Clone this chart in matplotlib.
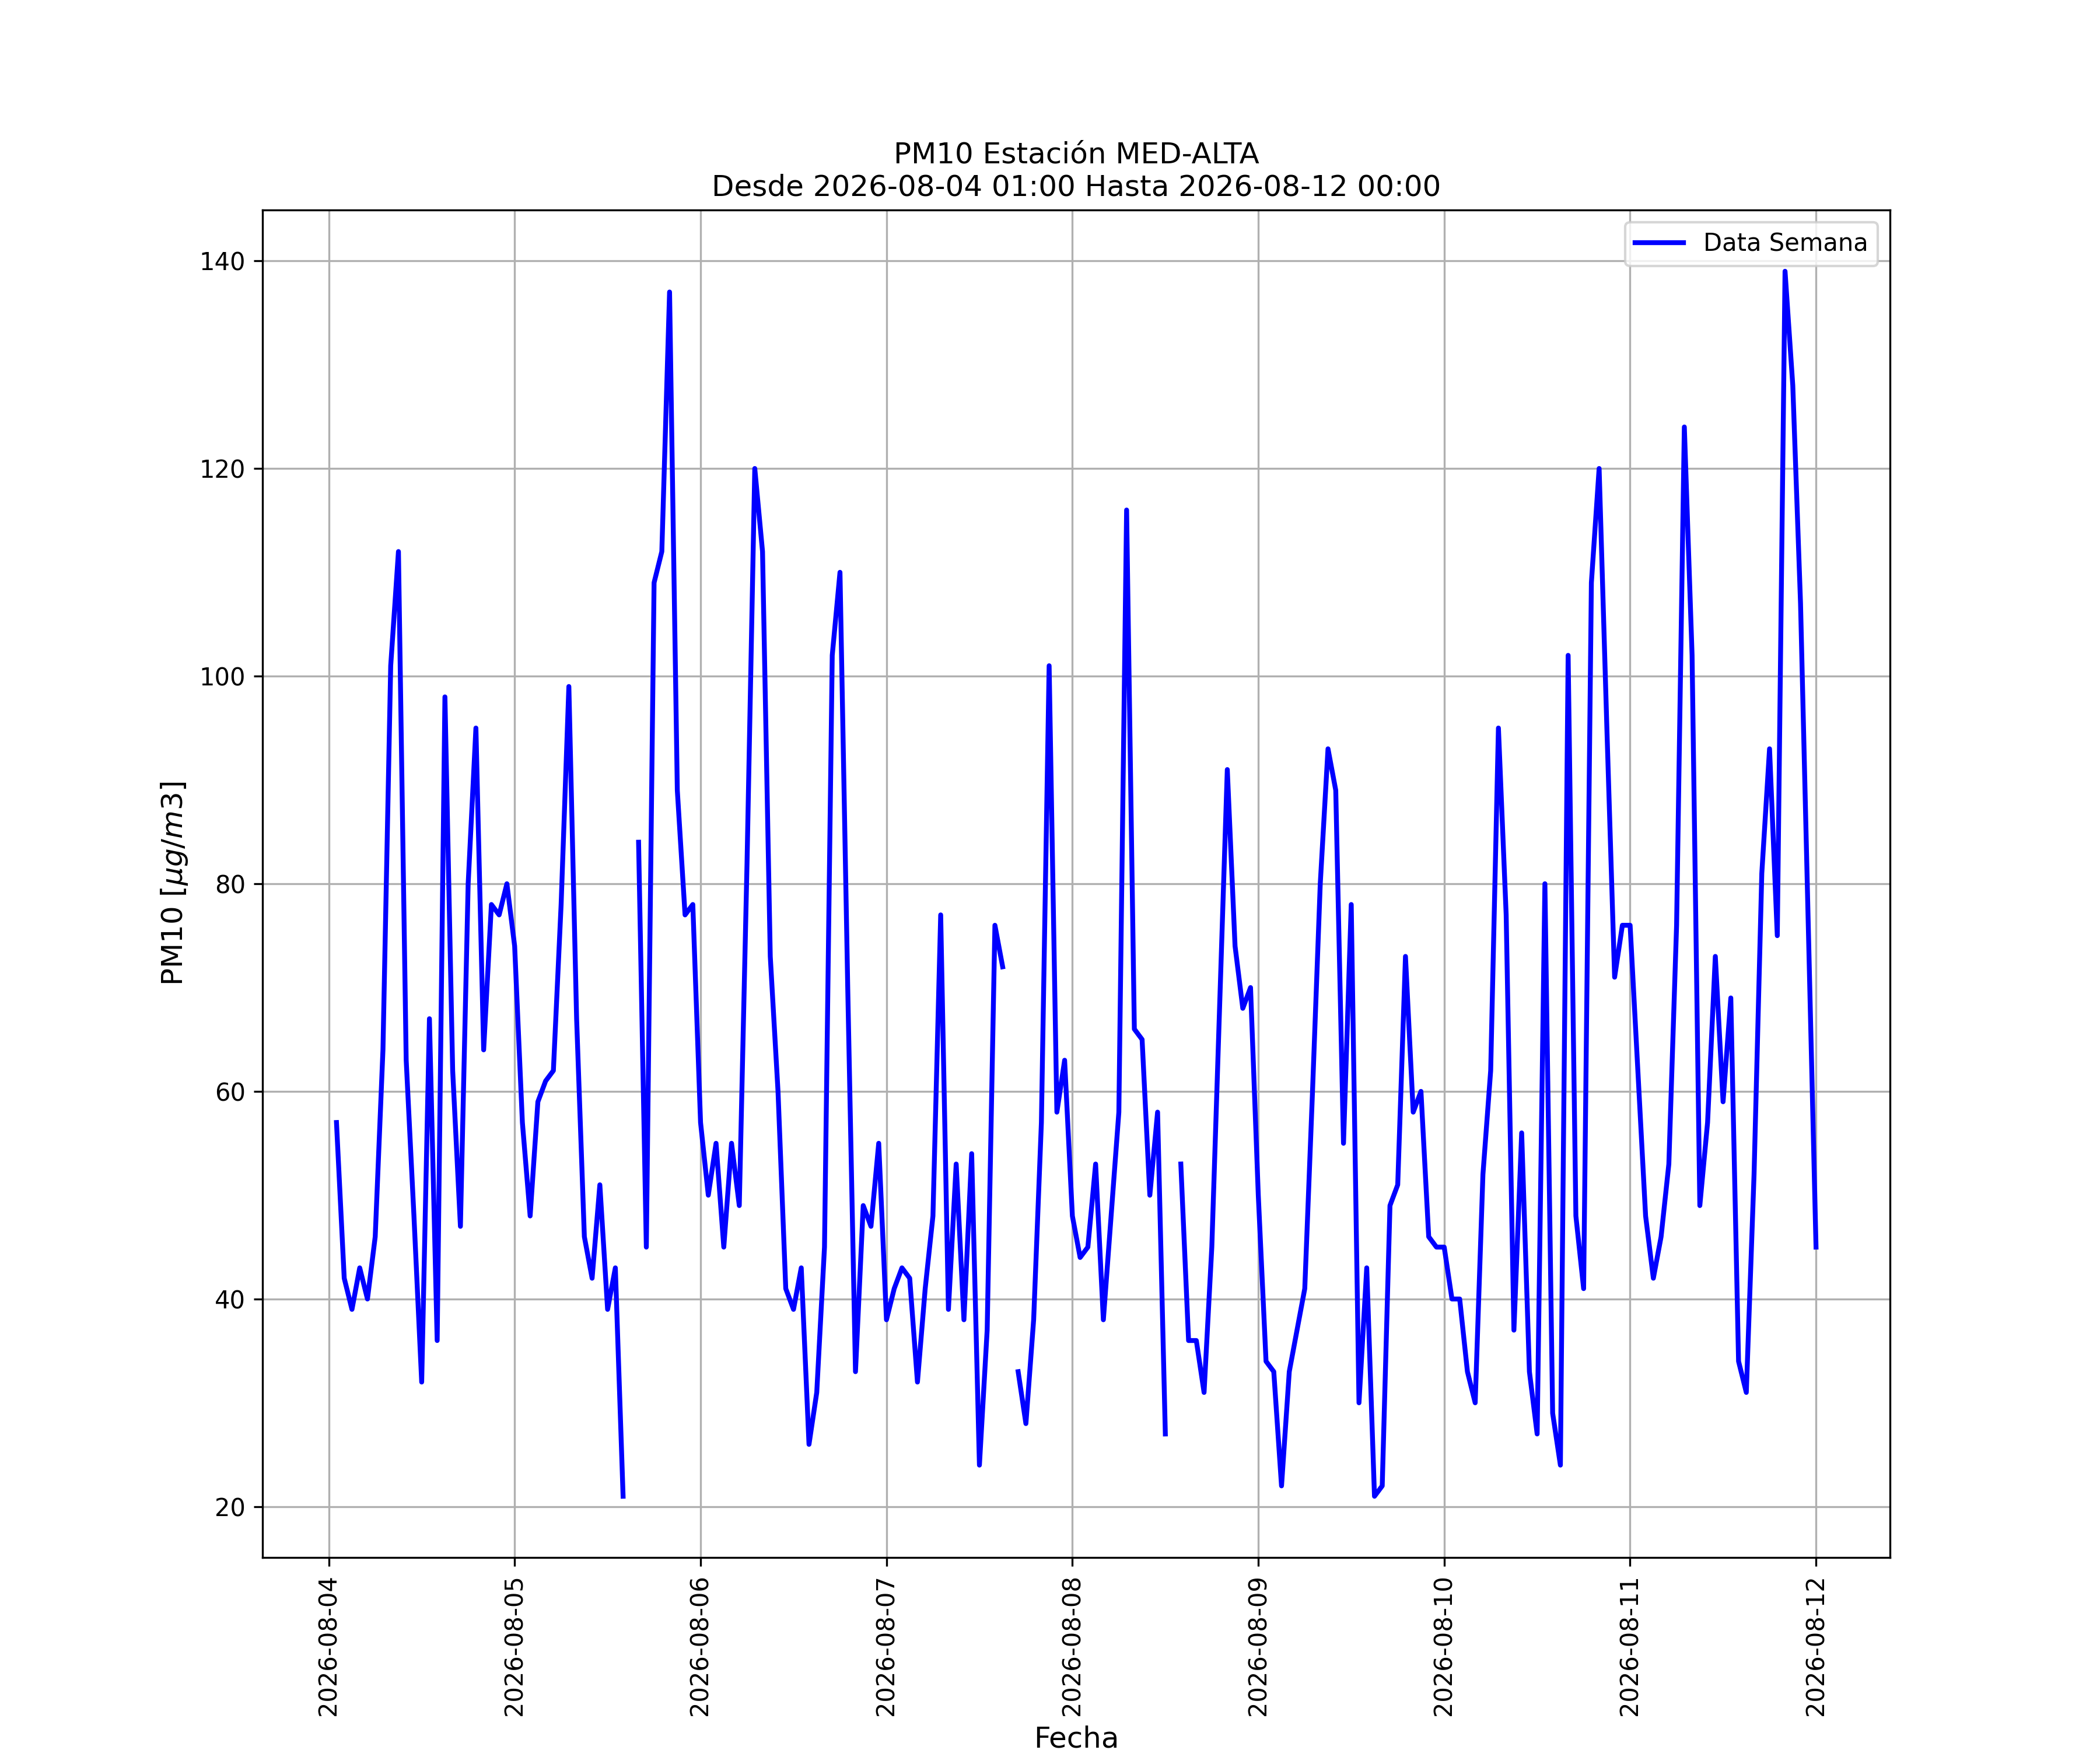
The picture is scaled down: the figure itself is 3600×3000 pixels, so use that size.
#!/usr/bin/env python3
"""PM10 hourly series for station MED-ALTA, one week."""

import matplotlib

matplotlib.use("Agg")
import matplotlib.dates as mdates
import matplotlib.pyplot as plt
import numpy as np
import pandas as pd

NAN = np.nan

# hourly PM10 values, each list starts at 01:00 and ends at 00:00 of next day
dia_04 = [57, 42, 39, 43, 40, 46, 64, 101, 112, 63, 48, 32,
          67, 36, 98, 62, 47, 80, 95, 64, 78, 77, 80, 74]
dia_05 = [57, 48, 59, 61, 62, 78, 99, 67, 46, 42, 51, 39,
          43, 21, NAN, 84, 45, 109, 112, 137, 89, 77, 78, 57]
dia_06 = [50, 55, 45, 55, 49, 82, 120, 112, 73, 60, 41, 39,
          43, 26, 31, 45, 102, 110, 70, 33, 49, 47, 55, 38]
dia_07 = [41, 43, 42, 32, 41, 48, 77, 39, 53, 38, 54, 24,
          37, 76, 72, NAN, 33, 28, 38, 57, 101, 58, 63, 48]
dia_08 = [44, 45, 53, 38, 48, 58, 116, 66, 65, 50, 58, 27,
          NAN, 53, 36, 36, 31, 45, 68, 91, 74, 68, 70, 50]
dia_09 = [34, 33, 22, 33, 37, 41, 60, 80, 93, 89, 55, 78,
          30, 43, 21, 22, 49, 51, 73, 58, 60, 46, 45, 45]
dia_10 = [40, 40, 33, 30, 52, 62, 95, 77, 37, 56, 33, 27,
          80, 29, 24, 102, 48, 41, 109, 120, 95, 71, 76, 76]
dia_11 = [62, 48, 42, 46, 53, 76, 124, 102, 49, 57, 73, 59,
          69, 34, 31, 52, 81, 93, 75, 139, 128, 107, 76, 45]

estacion = "MED-ALTA"
inicio = "2026-08-04 01:00"
fin = "2026-08-12 00:00"


def main() -> None:
    valores = np.array(dia_04 + dia_05 + dia_06 + dia_07
                       + dia_08 + dia_09 + dia_10 + dia_11, dtype=float)
    fechas = pd.date_range(inicio, fin, freq="h")

    fig, ax = plt.subplots(figsize=(12, 10))
    ax.plot(fechas, valores, color="blue", linewidth=2, label="Data Semana")
    ax.set_title(f"PM10 Estación {estacion}\nDesde {inicio} Hasta {fin}",
                 fontsize=12)
    ax.set_xlabel("Fecha", fontsize=12)
    ax.set_ylabel(r"PM10 [$\mu g/m3$]", fontsize=12)
    ax.xaxis.set_major_locator(mdates.DayLocator())
    ax.xaxis.set_major_formatter(mdates.DateFormatter("%Y-%m-%d"))
    plt.setp(ax.get_xticklabels(), rotation=90)
    ax.grid(True)
    ax.legend(loc="upper right")
    fig.savefig("out.png", dpi=300)
    plt.close(fig)


if __name__ == "__main__":
    main()
